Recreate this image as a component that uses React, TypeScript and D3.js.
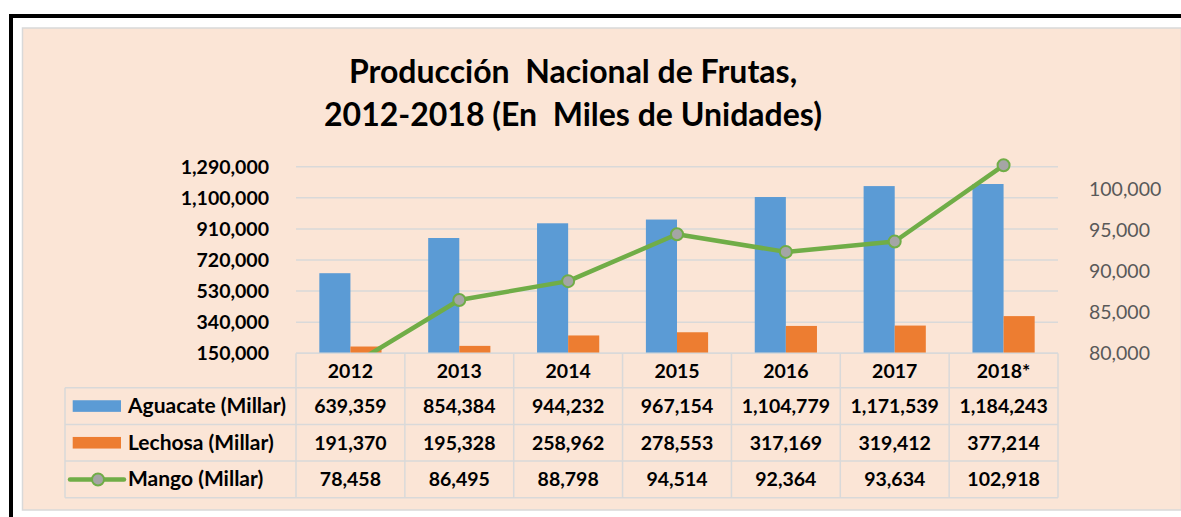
import * as d3 from "d3";

// chart data
const years = ["2012", "2013", "2014", "2015", "2016", "2017", "2018*"];
const aguacate = [639359, 854384, 944232, 967154, 1104779, 1171539, 1184243];
const lechosa = [191370, 195328, 258962, 278553, 317169, 319412, 377214];
const mango = [78458, 86495, 88798, 94514, 92364, 93634, 102918];
const seriesNames = ["Aguacate (Millar)", "Lechosa (Millar)", "Mango (Millar)"];
const leftTicks = [150000, 340000, 530000, 720000, 910000, 1100000, 1290000];
const rightTicks = [80000, 85000, 90000, 95000, 100000];

const W = 1181;
const H = 517;
const FONT = "Lato, 'Open Sans', sans-serif";

export default function App() {
  const plotL = 296, plotR = 1058, plotT = 166.7, plotB = 353.3;
  const x = d3.scaleBand().domain(years).range([plotL, plotR]).padding(0);
  const inner = d3.scaleBand().domain(["a", "l"]).range([0, x.bandwidth()])
    .paddingInner(0).paddingOuter(0.75);
  const yL = d3.scaleLinear().domain([150000, 1290000]).range([plotB, plotT]);
  const yR = d3.scaleLinear().domain([80000, 102750]).range([plotB, plotT]);
  const fmt = d3.format(",");

  const line = d3.line<number>()
    .x((d, i) => x(years[i])! + x.bandwidth() / 2)
    .y(d => yR(d));

  // table rows
  const rowTops = [387.7, 424.4, 461.1, 497.8];
  const tableLeft = 65;
  const grid = "#D9D9D9";
  const colors = ["#5B9BD5", "#ED7D31", "#70AD47"];
  const rows = [aguacate, lechosa, mango];

  return (
    <svg width={W} height={H} style={{ position: "absolute", left: 0, top: 0 }}
      fontFamily={FONT}>
      <defs>
        <clipPath id="plotClip">
          <rect x={plotL} y={0} width={plotR - plotL} height={plotB} />
        </clipPath>
      </defs>
      <rect x={0} y={0} width={W} height={H} fill="#fff" />
      {/* outer black frame */}
      <rect x={9} y={14} width={W - 9} height={4} fill="#000" />
      <rect x={9} y={14} width={4} height={H - 14} fill="#000" />
      {/* chart area */}
      <rect x={22.5} y={28} width={W - 22} height={482} fill="#FBE5D6"
        stroke={grid} strokeWidth={1.5} />

      <text x={573} y={83} textAnchor="middle" fontSize={32} fontWeight="bold"
        style={{ whiteSpace: "pre" }}>
        {"Producción  Nacional de Frutas,"}
      </text>
      <text x={573} y={126} textAnchor="middle" fontSize={32} fontWeight="bold"
        style={{ whiteSpace: "pre" }}>
        {"2012-2018 (En  Miles de Unidades)"}
      </text>

      {/* gridlines + left axis */}
      {leftTicks.map(t => (
        <g key={t}>
          <line x1={plotL} x2={plotR} y1={yL(t)} y2={yL(t)} stroke={grid} strokeWidth={1.5} />
          <text x={269} y={yL(t) + 7} textAnchor="end" fontSize={19.5} fontWeight="bold">
            {fmt(t)}
          </text>
        </g>
      ))}
      {rightTicks.map(t => (
        <text key={t} x={1089} y={yR(t) + 7} fontSize={19.5} fill="#595959">
          {fmt(t)}
        </text>
      ))}

      {/* bars */}
      {years.map((yr, i) => (
        <g key={yr} transform={`translate(${x(yr)},0)`}>
          <rect x={inner("a")} y={yL(aguacate[i])} width={inner.bandwidth()}
            height={plotB - yL(aguacate[i])} fill={colors[0]} />
          <rect x={inner("l")} y={yL(lechosa[i])} width={inner.bandwidth()}
            height={plotB - yL(lechosa[i])} fill={colors[1]} />
        </g>
      ))}

      {/* mango line */}
      <g clipPath="url(#plotClip)">
        <path d={line(mango)!} fill="none" stroke={colors[2]} strokeWidth={4.5}
          strokeLinejoin="round" />
        {mango.map((v, i) => (
          <circle key={i} cx={x(years[i])! + x.bandwidth() / 2} cy={yR(v)} r={6}
            fill="#A5A5A5" stroke={colors[2]} strokeWidth={2} />
        ))}
      </g>

      {/* data table */}
      <g stroke={grid} strokeWidth={1.5} fill="none">
        <line x1={plotL} x2={plotR} y1={plotB} y2={plotB} />
        {rowTops.map(y => (
          <line key={y} x1={tableLeft} x2={plotR} y1={y} y2={y} />
        ))}
        <line x1={tableLeft} x2={tableLeft} y1={rowTops[0]} y2={rowTops[3]} />
        {years.map(yr => (
          <line key={yr} x1={x(yr)} x2={x(yr)} y1={plotB} y2={rowTops[3]} />
        ))}
        <line x1={plotR} x2={plotR} y1={plotB} y2={rowTops[3]} />
      </g>
      {years.map(yr => (
        <text key={yr} x={x(yr)! + x.bandwidth() / 2} y={(plotB + rowTops[0]) / 2 + 7}
          textAnchor="middle" fontSize={19.5} fontWeight="bold">{yr}</text>
      ))}
      {rows.map((vals, r) => {
        const cy = (rowTops[r] + rowTops[r + 1]) / 2;
        return (
          <g key={r}>
            {r < 2 ? (
              <rect x={72.7} y={cy - 5.8} width={48.3} height={11.6} fill={colors[r]} />
            ) : (
              <g>
                <line x1={70} x2={124} y1={cy} y2={cy} stroke={colors[2]} strokeWidth={4.5}
                  strokeLinecap="round" />
                <circle cx={98} cy={cy} r={6} fill="#A5A5A5" stroke={colors[2]} strokeWidth={2} />
              </g>
            )}
            <text x={128} y={cy + 7} fontSize={21} fontWeight="bold">{seriesNames[r]}</text>
            {vals.map((v, i) => (
              <text key={i} x={x(years[i])! + x.bandwidth() / 2} y={cy + 7}
                textAnchor="middle" fontSize={19.5} fontWeight="bold">{fmt(v)}</text>
            ))}
          </g>
        );
      })}
    </svg>
  );
}
